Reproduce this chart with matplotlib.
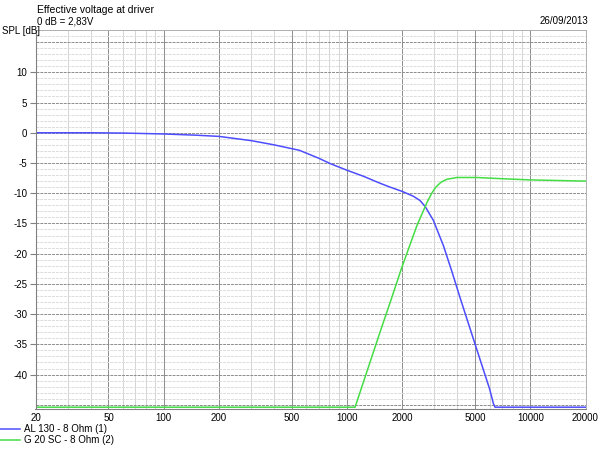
import numpy as np
import matplotlib.pyplot as plt
from matplotlib.ticker import FixedLocator, NullFormatter

# --- dados ---
freq_al130 = [20, 40, 60, 100, 150, 200, 300, 400, 550, 700, 810, 1000, 1230, 1500, 1720,
              2000, 2300, 2500, 2670, 2960, 3360, 3730, 4150, 5100, 6000, 6290, 6420, 20000]
spl_al130 = [0.0, 0.0, -0.05, -0.2, -0.4, -0.6, -1.3, -2.0, -2.9, -4.2, -5.1, -6.2, -7.2, -8.3, -9.0,
             -9.7, -10.5, -11.2, -12.2, -14.5, -18.7, -22.9, -27.4, -35.8, -42.4, -44.8, -45.4, -45.4]

freq_g20 = [20, 1107, 1514, 1754, 1990, 2404, 2725, 2900, 3052, 3250, 3500, 3970, 5100, 7000, 10000, 20000]
spl_g20 = [-45.4, -45.4, -33.0, -27.3, -22.3, -15.4, -11.6, -10.0, -9.0, -8.2, -7.7, -7.4, -7.4, -7.6, -7.8, -8.0]

xticks = [20, 50, 100, 200, 500, 1000, 2000, 5000, 10000, 20000]
yticks = [10, 5, 0, -5, -10, -15, -20, -25, -30, -35, -40]

plt.rcParams['font.family'] = ['Liberation Sans', 'DejaVu Sans']

fig = plt.figure(figsize=(6, 4.5), dpi=100)
ax = fig.add_axes([35.5 / 600, 41 / 450, 550 / 600, 379 / 450])

# grade
minor_x = [m * 10 ** d for d in range(1, 5) for m in range(1, 10)]
minor_x = [v for v in minor_x if 20 <= v <= 20000 and v not in xticks]
for v in minor_x:
    ax.axvline(v, color='#d4d4d4', lw=0.7, zorder=0)
for v in xticks:
    ax.axvline(v, color='#8c8c8c', lw=0.7, zorder=0)
for v in range(-45, 18):
    if v % 5 == 0:
        ax.axhline(v, color='#8c8c8c', lw=0.7, ls=(0, (3, 1)), zorder=0)
    else:
        ax.axhline(v, color='#dcdcdc', lw=0.7, ls=(0, (3, 1)), zorder=0)

ax.plot(freq_al130, spl_al130, color='#4d4dff', lw=1.1, label='AL 130 - 8 Ohm (1)')
ax.plot(freq_g20, spl_g20, color='#44dd44', lw=1.1, label='G 20 SC - 8 Ohm (2)')

ax.set_xscale('log')
ax.set_xlim(20, 20000)
ax.set_ylim(-45.7, 17)
ax.xaxis.set_major_locator(FixedLocator(xticks))
ax.xaxis.set_minor_locator(FixedLocator([]))
ax.xaxis.set_minor_formatter(NullFormatter())
ax.set_xticks(xticks)
ax.set_xticklabels([str(v) for v in xticks])
ax.set_yticks(yticks)
ax.set_yticklabels([str(v) for v in yticks])
ax.tick_params(axis='both', labelsize=7, colors='#000000', pad=2)
ax.tick_params(axis='x', length=0, pad=3)
ax.tick_params(axis='y', length=4, color='#808080')

for s in ['top', 'right']:
    ax.spines[s].set_color('#b0b0b0')
    ax.spines[s].set_linewidth(0.7)
for s in ['left', 'bottom']:
    ax.spines[s].set_color('#808080')
    ax.spines[s].set_linewidth(0.8)

# textos
fig.text(37 / 600, 1 - 10 / 450, 'Effective voltage at driver', fontsize=7.5, va='center')
fig.text(37 / 600, 1 - 21 / 450, '0 dB = 2,83V', fontsize=7, va='center')
fig.text(2 / 600, 1 - 31 / 450, 'SPL [dB]', fontsize=7, va='center')
fig.text(588 / 600, 1 - 21 / 450, '26/09/2013', fontsize=7, va='center', ha='right')

fig.legend(loc='upper left', bbox_to_anchor=(0, 1 - 424 / 450), frameon=False,
           fontsize=7, handlelength=2.0, handletextpad=0.4, labelspacing=0.1,
           borderaxespad=0, borderpad=0.05)

fig.savefig('out.png', dpi=100)
